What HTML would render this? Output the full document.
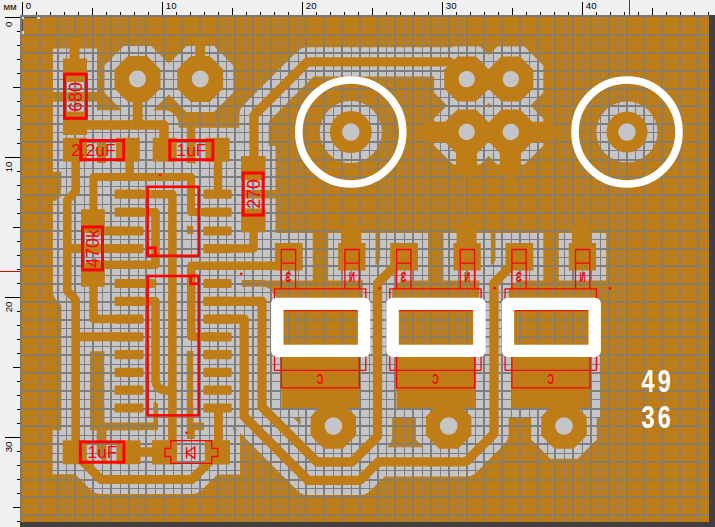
<!DOCTYPE html>
<html><head><meta charset="utf-8"><title>PCB</title>
<style>html,body{margin:0;padding:0;background:#f0f0f0;overflow:hidden}svg{display:block}</style>
</head><body>
<svg width="715" height="527" viewBox="0 0 715 527" font-family="'Liberation Sans', sans-serif">
<defs>
<mask id="gp" maskUnits="userSpaceOnUse" x="0" y="0" width="715" height="527">
<rect x="22.0" y="17.0" width="687.0" height="505.0" fill="#fff"/>
<g fill="#000" stroke="#000" stroke-linecap="round" stroke-linejoin="round">
<rect x="53" y="48.5" width="44" height="43.5" stroke="none"/>
<rect x="53" y="101.6" width="44" height="43.4" stroke="none"/>
<polygon points="123.8,46 151.2,46 170.5,65.3 170.5,92.7 151.2,112 123.8,112 104.5,92.7 104.5,65.3" stroke="none"/>
<polygon points="186.5,46 213.9,46 233.2,65.3 233.2,92.7 213.9,112 186.5,112 167.2,92.7 167.2,65.3" stroke="none"/>
<polyline points="137.7,90 137.7,125" stroke-width="30" fill="none"/>
<polyline points="75,125 164,125 164,142" stroke-width="29.5" fill="none"/>
<rect x="53" y="127.8" width="44" height="43.9" stroke="none"/>
<rect x="106" y="127.8" width="43.8" height="43.9" stroke="none"/>
<rect x="142.7" y="127.8" width="44" height="43.9" stroke="none"/>
<rect x="195.5" y="127.8" width="44" height="43.9" stroke="none"/>
<polyline points="75.7,155 75.7,191.5 67.3,200 67.3,291 75.7,299.5 75.7,445" stroke-width="28.6" fill="none"/>
<polyline points="67.3,248.6 120,248.6" stroke-width="29" fill="none"/>
<polyline points="75.7,336.8 120,336.8" stroke-width="29" fill="none"/>
<polyline points="129.7,155 129.7,177" stroke-width="28.5" fill="none"/>
<polyline points="93.5,214 93.5,177 191,177 191,212 212,212" stroke-width="28" fill="none"/>
<polyline points="218,155 218,194" stroke-width="28.5" fill="none"/>
<rect x="71" y="199.3" width="43.8" height="43.7" stroke="none"/>
<rect x="71" y="253" width="43.8" height="43.7" stroke="none"/>
<polyline points="100,231 120,231" stroke-width="29" fill="none"/>
<polyline points="93.5,282 93.5,319.1 120,319.1" stroke-width="28.5" fill="none"/>
<rect x="104.5" y="179.6" width="49" height="29.2" rx="1.5" stroke="none"/>
<rect x="193.4" y="179.6" width="48.3" height="29.2" rx="1.5" stroke="none"/>
<rect x="104.5" y="197.6" width="49" height="29.2" rx="1.5" stroke="none"/>
<rect x="193.4" y="197.6" width="48.3" height="29.2" rx="1.5" stroke="none"/>
<rect x="104.5" y="216.4" width="49" height="29.2" rx="1.5" stroke="none"/>
<rect x="193.4" y="216.4" width="48.3" height="29.2" rx="1.5" stroke="none"/>
<rect x="104.5" y="234" width="49" height="29.2" rx="1.5" stroke="none"/>
<rect x="193.4" y="234" width="48.3" height="29.2" rx="1.5" stroke="none"/>
<rect x="104.5" y="268.9" width="49" height="29.2" rx="1.5" stroke="none"/>
<rect x="193.4" y="268.9" width="48.3" height="29.2" rx="1.5" stroke="none"/>
<rect x="104.5" y="286.7" width="49" height="29.2" rx="1.5" stroke="none"/>
<rect x="193.4" y="286.7" width="48.3" height="29.2" rx="1.5" stroke="none"/>
<rect x="104.5" y="304.5" width="49" height="29.2" rx="1.5" stroke="none"/>
<rect x="193.4" y="304.5" width="48.3" height="29.2" rx="1.5" stroke="none"/>
<rect x="104.5" y="322.2" width="49" height="29.2" rx="1.5" stroke="none"/>
<rect x="193.4" y="322.2" width="48.3" height="29.2" rx="1.5" stroke="none"/>
<rect x="104.5" y="340" width="49" height="29.2" rx="1.5" stroke="none"/>
<rect x="193.4" y="340" width="48.3" height="29.2" rx="1.5" stroke="none"/>
<rect x="104.5" y="357.8" width="49" height="29.2" rx="1.5" stroke="none"/>
<rect x="193.4" y="357.8" width="48.3" height="29.2" rx="1.5" stroke="none"/>
<rect x="104.5" y="375.6" width="49" height="29.2" rx="1.5" stroke="none"/>
<rect x="193.4" y="375.6" width="48.3" height="29.2" rx="1.5" stroke="none"/>
<rect x="104.5" y="393.4" width="49" height="29.2" rx="1.5" stroke="none"/>
<rect x="193.4" y="393.4" width="48.3" height="29.2" rx="1.5" stroke="none"/>
<polyline points="130,194.2 172.4,194.2 172.4,447" stroke-width="28.6" fill="none"/>
<polyline points="130,212.2 155.5,212.2 155.5,264.7 95,264.7" stroke-width="28.6" fill="none"/>
<polyline points="130,283.5 152.5,283.5" stroke-width="29" fill="none"/>
<polyline points="130,301.3 155.5,301.3 155.5,381 157,386 161,389.5 166,390.5 172.4,390.5" stroke-width="28.6" fill="none"/>
<polyline points="215,248.6 253.5,248.6 253.5,225" stroke-width="28.5" fill="none"/>
<rect x="231" y="146" width="44.5" height="44" stroke="none"/>
<rect x="231" y="198.5" width="44.5" height="43.9" stroke="none"/>
<polyline points="254,165 254,115.3 307.5,61.8 449.5,61.8 466.7,79.1" stroke-width="29.3" fill="none"/>
<polyline points="215,336.8 191.3,336.8 191.3,265.7 289,265.7" stroke-width="28.6" fill="none"/>
<polyline points="215,301.3 262,301.3 262,407 317,462 352,462 377.5,436.5 377.5,283.5 404,257" stroke-width="29.3" fill="none"/>
<polyline points="215,319.1 244.2,319.1 244.2,416.5 308,480.3 360,480.3 378.5,461.8 466,461.8 494,433.8 494,283 519.5,257.5" stroke-width="29.3" fill="none"/>
<polyline points="218.5,408 218.5,448" stroke-width="29" fill="none"/>
<rect x="52.7" y="430.4" width="44" height="43.8" stroke="none"/>
<rect x="106.5" y="430.4" width="44" height="43.8" stroke="none"/>
<rect x="142" y="430.2" width="45" height="44.3" stroke="none"/>
<rect x="194.8" y="430.2" width="45.2" height="44.3" stroke="none"/>
<polyline points="130,452 160,452" stroke-width="29.5" fill="none"/>
<polyline points="73.5,452 101,479.5 191.8,479.5 219,452.3" stroke-width="29" fill="none"/>
<polygon points="453.2,46.6 480.2,46.6 499.2,65.6 499.2,92.6 480.2,111.6 453.2,111.6 434.2,92.6 434.2,65.6" stroke="none"/>
<polygon points="453.2,99.5 480.2,99.5 499.2,118.5 499.2,145.5 480.2,164.5 453.2,164.5 434.2,145.5 434.2,118.5" stroke="none"/>
<polygon points="497.3,46.6 524.3,46.6 543.3,65.6 543.3,92.6 524.3,111.6 497.3,111.6 478.3,92.6 478.3,65.6" stroke="none"/>
<polygon points="497.3,99.5 524.3,99.5 543.3,118.5 543.3,145.5 524.3,164.5 497.3,164.5 478.3,145.5 478.3,118.5" stroke="none"/>
<circle cx="350.8" cy="132" r="31" stroke="none"/>
<circle cx="627" cy="132" r="30.5" stroke="none"/>
<rect x="264.9" y="233" width="47.8" height="47.5" stroke="none"/>
<rect x="328.2" y="233" width="47.3" height="47.5" stroke="none"/>
<rect x="271.3" y="345" width="98.3" height="73" stroke="none"/>
<polygon points="319.8,393.2 347,393.2 366.1,412.4 366.1,439.6 347,458.8 319.8,458.8 300.6,439.6 300.6,412.4" stroke="none"/>
<rect x="380.2" y="233" width="47.8" height="47.5" stroke="none"/>
<rect x="443.5" y="233" width="47.3" height="47.5" stroke="none"/>
<rect x="386.6" y="345" width="98.3" height="73" stroke="none"/>
<polygon points="435.1,393.2 462.3,393.2 481.4,412.4 481.4,439.6 462.3,458.8 435.1,458.8 415.9,439.6 415.9,412.4" stroke="none"/>
<rect x="495.5" y="233" width="47.8" height="47.5" stroke="none"/>
<rect x="558.8" y="233" width="47.3" height="47.5" stroke="none"/>
<rect x="501.9" y="345" width="98.3" height="73" stroke="none"/>
<polygon points="550.4,393.2 577.6,393.2 596.8,412.4 596.8,439.6 577.6,458.8 550.4,458.8 531.2,439.6 531.2,412.4" stroke="none"/>
<rect x="184" y="234" width="12" height="24" stroke="none"/>
<rect x="185" y="439" width="12" height="30" stroke="none"/>
</g>
<g fill="#fff">
<rect x="40" y="92.8" width="24" height="8.4"/>
<path d="M50 173H61V196L55 201H50Z"/>
</g>
</mask>
<clipPath id="board"><rect x="22.0" y="17.0" width="687.0" height="505.0"/></clipPath>
</defs>
<rect width="715" height="527" fill="#f0f0f0"/>
<rect x="709" y="15" width="6" height="512" fill="#404040"/>
<rect x="20" y="522" width="695" height="5" fill="#404040"/>
<rect x="20" y="15" width="689" height="507" fill="#7a7a7a"/>
<rect x="22.0" y="17.0" width="687.0" height="505.0" fill="#c5c5c7"/>
<g shape-rendering="crispEdges">
<rect x="31" y="17" width="1" height="505" fill="#7e7e80"/>
<rect x="39" y="17" width="2" height="505" fill="#7e7e80"/>
<rect x="49" y="17" width="1" height="505" fill="#7e7e80"/>
<rect x="57" y="17" width="2" height="505" fill="#7e7e80"/>
<rect x="66" y="17" width="1" height="505" fill="#7e7e80"/>
<rect x="74" y="17" width="2" height="505" fill="#7e7e80"/>
<rect x="84" y="17" width="1" height="505" fill="#7e7e80"/>
<rect x="92" y="17" width="2" height="505" fill="#7e7e80"/>
<rect x="102" y="17" width="1" height="505" fill="#7e7e80"/>
<rect x="110" y="17" width="2" height="505" fill="#7e7e80"/>
<rect x="120" y="17" width="1" height="505" fill="#7e7e80"/>
<rect x="128" y="17" width="2" height="505" fill="#7e7e80"/>
<rect x="138" y="17" width="1" height="505" fill="#7e7e80"/>
<rect x="145" y="17" width="2" height="505" fill="#7e7e80"/>
<rect x="155" y="17" width="1" height="505" fill="#7e7e80"/>
<rect x="163" y="17" width="2" height="505" fill="#7e7e80"/>
<rect x="173" y="17" width="1" height="505" fill="#7e7e80"/>
<rect x="181" y="17" width="2" height="505" fill="#7e7e80"/>
<rect x="191" y="17" width="1" height="505" fill="#7e7e80"/>
<rect x="199" y="17" width="2" height="505" fill="#7e7e80"/>
<rect x="209" y="17" width="1" height="505" fill="#7e7e80"/>
<rect x="217" y="17" width="2" height="505" fill="#7e7e80"/>
<rect x="226" y="17" width="1" height="505" fill="#7e7e80"/>
<rect x="234" y="17" width="2" height="505" fill="#7e7e80"/>
<rect x="244" y="17" width="1" height="505" fill="#7e7e80"/>
<rect x="252" y="17" width="2" height="505" fill="#7e7e80"/>
<rect x="262" y="17" width="1" height="505" fill="#7e7e80"/>
<rect x="270" y="17" width="2" height="505" fill="#7e7e80"/>
<rect x="280" y="17" width="1" height="505" fill="#7e7e80"/>
<rect x="288" y="17" width="2" height="505" fill="#7e7e80"/>
<rect x="298" y="17" width="1" height="505" fill="#7e7e80"/>
<rect x="305" y="17" width="2" height="505" fill="#7e7e80"/>
<rect x="315" y="17" width="1" height="505" fill="#7e7e80"/>
<rect x="323" y="17" width="2" height="505" fill="#7e7e80"/>
<rect x="333" y="17" width="1" height="505" fill="#7e7e80"/>
<rect x="341" y="17" width="2" height="505" fill="#7e7e80"/>
<rect x="351" y="17" width="1" height="505" fill="#7e7e80"/>
<rect x="359" y="17" width="2" height="505" fill="#7e7e80"/>
<rect x="369" y="17" width="1" height="505" fill="#7e7e80"/>
<rect x="377" y="17" width="2" height="505" fill="#7e7e80"/>
<rect x="386" y="17" width="1" height="505" fill="#7e7e80"/>
<rect x="394" y="17" width="2" height="505" fill="#7e7e80"/>
<rect x="404" y="17" width="1" height="505" fill="#7e7e80"/>
<rect x="412" y="17" width="2" height="505" fill="#7e7e80"/>
<rect x="422" y="17" width="1" height="505" fill="#7e7e80"/>
<rect x="430" y="17" width="2" height="505" fill="#7e7e80"/>
<rect x="440" y="17" width="1" height="505" fill="#7e7e80"/>
<rect x="448" y="17" width="2" height="505" fill="#7e7e80"/>
<rect x="458" y="17" width="1" height="505" fill="#7e7e80"/>
<rect x="466" y="17" width="2" height="505" fill="#7e7e80"/>
<rect x="475" y="17" width="1" height="505" fill="#7e7e80"/>
<rect x="483" y="17" width="2" height="505" fill="#7e7e80"/>
<rect x="493" y="17" width="1" height="505" fill="#7e7e80"/>
<rect x="501" y="17" width="2" height="505" fill="#7e7e80"/>
<rect x="511" y="17" width="1" height="505" fill="#7e7e80"/>
<rect x="519" y="17" width="2" height="505" fill="#7e7e80"/>
<rect x="529" y="17" width="1" height="505" fill="#7e7e80"/>
<rect x="537" y="17" width="2" height="505" fill="#7e7e80"/>
<rect x="547" y="17" width="1" height="505" fill="#7e7e80"/>
<rect x="554" y="17" width="2" height="505" fill="#7e7e80"/>
<rect x="564" y="17" width="1" height="505" fill="#7e7e80"/>
<rect x="572" y="17" width="2" height="505" fill="#7e7e80"/>
<rect x="582" y="17" width="1" height="505" fill="#7e7e80"/>
<rect x="590" y="17" width="2" height="505" fill="#7e7e80"/>
<rect x="600" y="17" width="1" height="505" fill="#7e7e80"/>
<rect x="608" y="17" width="2" height="505" fill="#7e7e80"/>
<rect x="618" y="17" width="1" height="505" fill="#7e7e80"/>
<rect x="626" y="17" width="2" height="505" fill="#7e7e80"/>
<rect x="635" y="17" width="1" height="505" fill="#7e7e80"/>
<rect x="643" y="17" width="2" height="505" fill="#7e7e80"/>
<rect x="653" y="17" width="1" height="505" fill="#7e7e80"/>
<rect x="661" y="17" width="2" height="505" fill="#7e7e80"/>
<rect x="671" y="17" width="1" height="505" fill="#7e7e80"/>
<rect x="679" y="17" width="2" height="505" fill="#7e7e80"/>
<rect x="689" y="17" width="1" height="505" fill="#7e7e80"/>
<rect x="697" y="17" width="2" height="505" fill="#7e7e80"/>
<rect x="707" y="17" width="1" height="505" fill="#7e7e80"/>
<rect x="22" y="26" width="687" height="1" fill="#7e7e80"/>
<rect x="22" y="34" width="687" height="2" fill="#7e7e80"/>
<rect x="22" y="44" width="687" height="1" fill="#7e7e80"/>
<rect x="22" y="52" width="687" height="2" fill="#7e7e80"/>
<rect x="22" y="61" width="687" height="1" fill="#7e7e80"/>
<rect x="22" y="70" width="687" height="2" fill="#7e7e80"/>
<rect x="22" y="79" width="687" height="1" fill="#7e7e80"/>
<rect x="22" y="88" width="687" height="2" fill="#7e7e80"/>
<rect x="22" y="97" width="687" height="1" fill="#7e7e80"/>
<rect x="22" y="105" width="687" height="2" fill="#7e7e80"/>
<rect x="22" y="115" width="687" height="1" fill="#7e7e80"/>
<rect x="22" y="123" width="687" height="2" fill="#7e7e80"/>
<rect x="22" y="132" width="687" height="1" fill="#7e7e80"/>
<rect x="22" y="141" width="687" height="2" fill="#7e7e80"/>
<rect x="22" y="150" width="687" height="1" fill="#7e7e80"/>
<rect x="22" y="159" width="687" height="2" fill="#7e7e80"/>
<rect x="22" y="168" width="687" height="1" fill="#7e7e80"/>
<rect x="22" y="176" width="687" height="2" fill="#7e7e80"/>
<rect x="22" y="186" width="687" height="1" fill="#7e7e80"/>
<rect x="22" y="194" width="687" height="2" fill="#7e7e80"/>
<rect x="22" y="204" width="687" height="1" fill="#7e7e80"/>
<rect x="22" y="212" width="687" height="2" fill="#7e7e80"/>
<rect x="22" y="221" width="687" height="1" fill="#7e7e80"/>
<rect x="22" y="230" width="687" height="2" fill="#7e7e80"/>
<rect x="22" y="239" width="687" height="1" fill="#7e7e80"/>
<rect x="22" y="248" width="687" height="2" fill="#7e7e80"/>
<rect x="22" y="257" width="687" height="1" fill="#7e7e80"/>
<rect x="22" y="265" width="687" height="2" fill="#7e7e80"/>
<rect x="22" y="275" width="687" height="1" fill="#7e7e80"/>
<rect x="22" y="283" width="687" height="2" fill="#7e7e80"/>
<rect x="22" y="292" width="687" height="1" fill="#7e7e80"/>
<rect x="22" y="301" width="687" height="2" fill="#7e7e80"/>
<rect x="22" y="310" width="687" height="1" fill="#7e7e80"/>
<rect x="22" y="319" width="687" height="2" fill="#7e7e80"/>
<rect x="22" y="328" width="687" height="1" fill="#7e7e80"/>
<rect x="22" y="336" width="687" height="2" fill="#7e7e80"/>
<rect x="22" y="346" width="687" height="1" fill="#7e7e80"/>
<rect x="22" y="354" width="687" height="2" fill="#7e7e80"/>
<rect x="22" y="364" width="687" height="1" fill="#7e7e80"/>
<rect x="22" y="372" width="687" height="2" fill="#7e7e80"/>
<rect x="22" y="381" width="687" height="1" fill="#7e7e80"/>
<rect x="22" y="390" width="687" height="2" fill="#7e7e80"/>
<rect x="22" y="399" width="687" height="1" fill="#7e7e80"/>
<rect x="22" y="408" width="687" height="2" fill="#7e7e80"/>
<rect x="22" y="417" width="687" height="1" fill="#7e7e80"/>
<rect x="22" y="425" width="687" height="2" fill="#7e7e80"/>
<rect x="22" y="435" width="687" height="1" fill="#7e7e80"/>
<rect x="22" y="443" width="687" height="2" fill="#7e7e80"/>
<rect x="22" y="453" width="687" height="1" fill="#7e7e80"/>
<rect x="22" y="461" width="687" height="2" fill="#7e7e80"/>
<rect x="22" y="470" width="687" height="1" fill="#7e7e80"/>
<rect x="22" y="479" width="687" height="2" fill="#7e7e80"/>
<rect x="22" y="488" width="687" height="1" fill="#7e7e80"/>
<rect x="22" y="496" width="687" height="2" fill="#7e7e80"/>
<rect x="22" y="506" width="687" height="1" fill="#7e7e80"/>
<rect x="22" y="514" width="687" height="2" fill="#7e7e80"/>
</g>
<g mask="url(#gp)">
<rect x="22.0" y="17.0" width="687.0" height="505.0" fill="#bf7d17"/>
<g shape-rendering="crispEdges">
<rect x="31" y="17" width="1" height="505" fill="#967f56"/>
<rect x="39" y="17" width="2" height="505" fill="#8b7e62"/>
<rect x="49" y="17" width="1" height="505" fill="#967f56"/>
<rect x="57" y="17" width="2" height="505" fill="#8b7e62"/>
<rect x="66" y="17" width="1" height="505" fill="#967f56"/>
<rect x="74" y="17" width="2" height="505" fill="#8b7e62"/>
<rect x="84" y="17" width="1" height="505" fill="#967f56"/>
<rect x="92" y="17" width="2" height="505" fill="#8b7e62"/>
<rect x="102" y="17" width="1" height="505" fill="#967f56"/>
<rect x="110" y="17" width="2" height="505" fill="#8b7e62"/>
<rect x="120" y="17" width="1" height="505" fill="#967f56"/>
<rect x="128" y="17" width="2" height="505" fill="#8b7e62"/>
<rect x="138" y="17" width="1" height="505" fill="#967f56"/>
<rect x="145" y="17" width="2" height="505" fill="#8b7e62"/>
<rect x="155" y="17" width="1" height="505" fill="#967f56"/>
<rect x="163" y="17" width="2" height="505" fill="#8b7e62"/>
<rect x="173" y="17" width="1" height="505" fill="#967f56"/>
<rect x="181" y="17" width="2" height="505" fill="#8b7e62"/>
<rect x="191" y="17" width="1" height="505" fill="#967f56"/>
<rect x="199" y="17" width="2" height="505" fill="#8b7e62"/>
<rect x="209" y="17" width="1" height="505" fill="#967f56"/>
<rect x="217" y="17" width="2" height="505" fill="#8b7e62"/>
<rect x="226" y="17" width="1" height="505" fill="#967f56"/>
<rect x="234" y="17" width="2" height="505" fill="#8b7e62"/>
<rect x="244" y="17" width="1" height="505" fill="#967f56"/>
<rect x="252" y="17" width="2" height="505" fill="#8b7e62"/>
<rect x="262" y="17" width="1" height="505" fill="#967f56"/>
<rect x="270" y="17" width="2" height="505" fill="#8b7e62"/>
<rect x="280" y="17" width="1" height="505" fill="#967f56"/>
<rect x="288" y="17" width="2" height="505" fill="#8b7e62"/>
<rect x="298" y="17" width="1" height="505" fill="#967f56"/>
<rect x="305" y="17" width="2" height="505" fill="#8b7e62"/>
<rect x="315" y="17" width="1" height="505" fill="#967f56"/>
<rect x="323" y="17" width="2" height="505" fill="#8b7e62"/>
<rect x="333" y="17" width="1" height="505" fill="#967f56"/>
<rect x="341" y="17" width="2" height="505" fill="#8b7e62"/>
<rect x="351" y="17" width="1" height="505" fill="#967f56"/>
<rect x="359" y="17" width="2" height="505" fill="#8b7e62"/>
<rect x="369" y="17" width="1" height="505" fill="#967f56"/>
<rect x="377" y="17" width="2" height="505" fill="#8b7e62"/>
<rect x="386" y="17" width="1" height="505" fill="#967f56"/>
<rect x="394" y="17" width="2" height="505" fill="#8b7e62"/>
<rect x="404" y="17" width="1" height="505" fill="#967f56"/>
<rect x="412" y="17" width="2" height="505" fill="#8b7e62"/>
<rect x="422" y="17" width="1" height="505" fill="#967f56"/>
<rect x="430" y="17" width="2" height="505" fill="#8b7e62"/>
<rect x="440" y="17" width="1" height="505" fill="#967f56"/>
<rect x="448" y="17" width="2" height="505" fill="#8b7e62"/>
<rect x="458" y="17" width="1" height="505" fill="#967f56"/>
<rect x="466" y="17" width="2" height="505" fill="#8b7e62"/>
<rect x="475" y="17" width="1" height="505" fill="#967f56"/>
<rect x="483" y="17" width="2" height="505" fill="#8b7e62"/>
<rect x="493" y="17" width="1" height="505" fill="#967f56"/>
<rect x="501" y="17" width="2" height="505" fill="#8b7e62"/>
<rect x="511" y="17" width="1" height="505" fill="#967f56"/>
<rect x="519" y="17" width="2" height="505" fill="#8b7e62"/>
<rect x="529" y="17" width="1" height="505" fill="#967f56"/>
<rect x="537" y="17" width="2" height="505" fill="#8b7e62"/>
<rect x="547" y="17" width="1" height="505" fill="#967f56"/>
<rect x="554" y="17" width="2" height="505" fill="#8b7e62"/>
<rect x="564" y="17" width="1" height="505" fill="#967f56"/>
<rect x="572" y="17" width="2" height="505" fill="#8b7e62"/>
<rect x="582" y="17" width="1" height="505" fill="#967f56"/>
<rect x="590" y="17" width="2" height="505" fill="#8b7e62"/>
<rect x="600" y="17" width="1" height="505" fill="#967f56"/>
<rect x="608" y="17" width="2" height="505" fill="#8b7e62"/>
<rect x="618" y="17" width="1" height="505" fill="#967f56"/>
<rect x="626" y="17" width="2" height="505" fill="#8b7e62"/>
<rect x="635" y="17" width="1" height="505" fill="#967f56"/>
<rect x="643" y="17" width="2" height="505" fill="#8b7e62"/>
<rect x="653" y="17" width="1" height="505" fill="#967f56"/>
<rect x="661" y="17" width="2" height="505" fill="#8b7e62"/>
<rect x="671" y="17" width="1" height="505" fill="#967f56"/>
<rect x="679" y="17" width="2" height="505" fill="#8b7e62"/>
<rect x="689" y="17" width="1" height="505" fill="#967f56"/>
<rect x="697" y="17" width="2" height="505" fill="#8b7e62"/>
<rect x="707" y="17" width="1" height="505" fill="#967f56"/>
<rect x="22" y="26" width="687" height="1" fill="#967f56"/>
<rect x="22" y="34" width="687" height="2" fill="#8b7e62"/>
<rect x="22" y="44" width="687" height="1" fill="#967f56"/>
<rect x="22" y="52" width="687" height="2" fill="#8b7e62"/>
<rect x="22" y="61" width="687" height="1" fill="#967f56"/>
<rect x="22" y="70" width="687" height="2" fill="#8b7e62"/>
<rect x="22" y="79" width="687" height="1" fill="#967f56"/>
<rect x="22" y="88" width="687" height="2" fill="#8b7e62"/>
<rect x="22" y="97" width="687" height="1" fill="#967f56"/>
<rect x="22" y="105" width="687" height="2" fill="#8b7e62"/>
<rect x="22" y="115" width="687" height="1" fill="#967f56"/>
<rect x="22" y="123" width="687" height="2" fill="#8b7e62"/>
<rect x="22" y="132" width="687" height="1" fill="#967f56"/>
<rect x="22" y="141" width="687" height="2" fill="#8b7e62"/>
<rect x="22" y="150" width="687" height="1" fill="#967f56"/>
<rect x="22" y="159" width="687" height="2" fill="#8b7e62"/>
<rect x="22" y="168" width="687" height="1" fill="#967f56"/>
<rect x="22" y="176" width="687" height="2" fill="#8b7e62"/>
<rect x="22" y="186" width="687" height="1" fill="#967f56"/>
<rect x="22" y="194" width="687" height="2" fill="#8b7e62"/>
<rect x="22" y="204" width="687" height="1" fill="#967f56"/>
<rect x="22" y="212" width="687" height="2" fill="#8b7e62"/>
<rect x="22" y="221" width="687" height="1" fill="#967f56"/>
<rect x="22" y="230" width="687" height="2" fill="#8b7e62"/>
<rect x="22" y="239" width="687" height="1" fill="#967f56"/>
<rect x="22" y="248" width="687" height="2" fill="#8b7e62"/>
<rect x="22" y="257" width="687" height="1" fill="#967f56"/>
<rect x="22" y="265" width="687" height="2" fill="#8b7e62"/>
<rect x="22" y="275" width="687" height="1" fill="#967f56"/>
<rect x="22" y="283" width="687" height="2" fill="#8b7e62"/>
<rect x="22" y="292" width="687" height="1" fill="#967f56"/>
<rect x="22" y="301" width="687" height="2" fill="#8b7e62"/>
<rect x="22" y="310" width="687" height="1" fill="#967f56"/>
<rect x="22" y="319" width="687" height="2" fill="#8b7e62"/>
<rect x="22" y="328" width="687" height="1" fill="#967f56"/>
<rect x="22" y="336" width="687" height="2" fill="#8b7e62"/>
<rect x="22" y="346" width="687" height="1" fill="#967f56"/>
<rect x="22" y="354" width="687" height="2" fill="#8b7e62"/>
<rect x="22" y="364" width="687" height="1" fill="#967f56"/>
<rect x="22" y="372" width="687" height="2" fill="#8b7e62"/>
<rect x="22" y="381" width="687" height="1" fill="#967f56"/>
<rect x="22" y="390" width="687" height="2" fill="#8b7e62"/>
<rect x="22" y="399" width="687" height="1" fill="#967f56"/>
<rect x="22" y="408" width="687" height="2" fill="#8b7e62"/>
<rect x="22" y="417" width="687" height="1" fill="#967f56"/>
<rect x="22" y="425" width="687" height="2" fill="#8b7e62"/>
<rect x="22" y="435" width="687" height="1" fill="#967f56"/>
<rect x="22" y="443" width="687" height="2" fill="#8b7e62"/>
<rect x="22" y="453" width="687" height="1" fill="#967f56"/>
<rect x="22" y="461" width="687" height="2" fill="#8b7e62"/>
<rect x="22" y="470" width="687" height="1" fill="#967f56"/>
<rect x="22" y="479" width="687" height="2" fill="#8b7e62"/>
<rect x="22" y="488" width="687" height="1" fill="#967f56"/>
<rect x="22" y="496" width="687" height="2" fill="#8b7e62"/>
<rect x="22" y="506" width="687" height="1" fill="#967f56"/>
<rect x="22" y="514" width="687" height="2" fill="#8b7e62"/>
</g>
</g>
<g clip-path="url(#board)">
<g fill="#bf7d17" stroke="#bf7d17" stroke-linecap="round" stroke-linejoin="round">
<rect x="63" y="58.5" width="24" height="23.5" stroke="none"/>
<rect x="63" y="111.6" width="24" height="23.4" stroke="none"/>
<polyline points="74.5,62 74.5,42.8" stroke-width="10" fill="none"/>
<polygon points="128,56 147,56 160.5,69.5 160.5,88.5 147,102 128,102 114.5,88.5 114.5,69.5" stroke="none"/>
<polygon points="190.7,56 209.7,56 223.2,69.5 223.2,88.5 209.7,102 190.7,102 177.2,88.5 177.2,69.5" stroke="none"/>
<polyline points="200.2,70 200.2,42.8" stroke-width="10" fill="none"/>
<polyline points="137.7,90 137.7,125" stroke-width="10" fill="none"/>
<polyline points="75,125 164,125 164,142" stroke-width="9.5" fill="none"/>
<rect x="63" y="137.8" width="24" height="23.9" stroke="none"/>
<rect x="116" y="137.8" width="23.8" height="23.9" stroke="none"/>
<rect x="152.7" y="137.8" width="24" height="23.9" stroke="none"/>
<rect x="205.5" y="137.8" width="24" height="23.9" stroke="none"/>
<polyline points="75.7,155 75.7,191.5 67.3,200 67.3,291 75.7,299.5 75.7,445" stroke-width="8.6" fill="none"/>
<polyline points="67.3,248.6 120,248.6" stroke-width="9" fill="none"/>
<polyline points="75.7,336.8 120,336.8" stroke-width="9" fill="none"/>
<polyline points="129.7,155 129.7,177" stroke-width="8.5" fill="none"/>
<polyline points="93.5,214 93.5,177 191,177 191,212 212,212" stroke-width="8" fill="none"/>
<polyline points="218,155 218,194" stroke-width="8.5" fill="none"/>
<rect x="81" y="209.3" width="23.8" height="23.7" stroke="none"/>
<rect x="81" y="263" width="23.8" height="23.7" stroke="none"/>
<polyline points="100,231 120,231" stroke-width="9" fill="none"/>
<polyline points="93.5,282 93.5,319.1 120,319.1" stroke-width="8.5" fill="none"/>
<rect x="114.5" y="189.6" width="29" height="9.2" rx="1.3" stroke="none"/>
<rect x="203.4" y="189.6" width="28.3" height="9.2" rx="1.3" stroke="none"/>
<rect x="114.5" y="207.6" width="29" height="9.2" rx="1.3" stroke="none"/>
<rect x="203.4" y="207.6" width="28.3" height="9.2" rx="1.3" stroke="none"/>
<rect x="114.5" y="226.4" width="29" height="9.2" rx="1.3" stroke="none"/>
<rect x="203.4" y="226.4" width="28.3" height="9.2" rx="1.3" stroke="none"/>
<rect x="114.5" y="244" width="29" height="9.2" rx="1.3" stroke="none"/>
<rect x="203.4" y="244" width="28.3" height="9.2" rx="1.3" stroke="none"/>
<rect x="114.5" y="278.9" width="29" height="9.2" rx="1.3" stroke="none"/>
<rect x="203.4" y="278.9" width="28.3" height="9.2" rx="1.3" stroke="none"/>
<rect x="114.5" y="296.7" width="29" height="9.2" rx="1.3" stroke="none"/>
<rect x="203.4" y="296.7" width="28.3" height="9.2" rx="1.3" stroke="none"/>
<rect x="114.5" y="314.5" width="29" height="9.2" rx="1.3" stroke="none"/>
<rect x="203.4" y="314.5" width="28.3" height="9.2" rx="1.3" stroke="none"/>
<rect x="114.5" y="332.2" width="29" height="9.2" rx="1.3" stroke="none"/>
<rect x="203.4" y="332.2" width="28.3" height="9.2" rx="1.3" stroke="none"/>
<rect x="114.5" y="350" width="29" height="9.2" rx="1.3" stroke="none"/>
<rect x="203.4" y="350" width="28.3" height="9.2" rx="1.3" stroke="none"/>
<rect x="114.5" y="367.8" width="29" height="9.2" rx="1.3" stroke="none"/>
<rect x="203.4" y="367.8" width="28.3" height="9.2" rx="1.3" stroke="none"/>
<rect x="114.5" y="385.6" width="29" height="9.2" rx="1.3" stroke="none"/>
<rect x="203.4" y="385.6" width="28.3" height="9.2" rx="1.3" stroke="none"/>
<rect x="114.5" y="403.4" width="29" height="9.2" rx="1.3" stroke="none"/>
<rect x="203.4" y="403.4" width="28.3" height="9.2" rx="1.3" stroke="none"/>
<polyline points="130,194.2 172.4,194.2 172.4,447" stroke-width="8.6" fill="none"/>
<polyline points="130,212.2 155.5,212.2 155.5,264.7 95,264.7" stroke-width="8.6" fill="none"/>
<polyline points="130,283.5 152.5,283.5" stroke-width="9" fill="none"/>
<polyline points="130,301.3 155.5,301.3 155.5,381 157,386 161,389.5 166,390.5 172.4,390.5" stroke-width="8.6" fill="none"/>
<polyline points="215,248.6 253.5,248.6 253.5,225" stroke-width="8.5" fill="none"/>
<rect x="241" y="156" width="24.5" height="24" stroke="none"/>
<rect x="241" y="208.5" width="24.5" height="23.9" stroke="none"/>
<polyline points="254,165 254,115.3 307.5,61.8 449.5,61.8 466.7,79.1" stroke-width="9.3" fill="none"/>
<polyline points="215,336.8 191.3,336.8 191.3,265.7 289,265.7" stroke-width="8.6" fill="none"/>
<polyline points="215,301.3 262,301.3 262,407 317,462 352,462 377.5,436.5 377.5,283.5 404,257" stroke-width="9.3" fill="none"/>
<polyline points="215,319.1 244.2,319.1 244.2,416.5 308,480.3 360,480.3 378.5,461.8 466,461.8 494,433.8 494,283 519.5,257.5" stroke-width="9.3" fill="none"/>
<polyline points="218.5,408 218.5,448" stroke-width="9" fill="none"/>
<rect x="62.7" y="440.4" width="24" height="23.8" stroke="none"/>
<rect x="116.5" y="440.4" width="24" height="23.8" stroke="none"/>
<rect x="152" y="440.2" width="25" height="24.3" stroke="none"/>
<rect x="204.8" y="440.2" width="25.2" height="24.3" stroke="none"/>
<polyline points="130,452 160,452" stroke-width="9.5" fill="none"/>
<polyline points="73.5,452 101,479.5 191.8,479.5 219,452.3" stroke-width="9" fill="none"/>
<polygon points="457.4,56.6 476,56.6 489.2,69.8 489.2,88.4 476,101.6 457.4,101.6 444.2,88.4 444.2,69.8" stroke="none"/>
<polygon points="457.4,109.5 476,109.5 489.2,122.7 489.2,141.3 476,154.5 457.4,154.5 444.2,141.3 444.2,122.7" stroke="none"/>
<polygon points="501.5,56.6 520.1,56.6 533.3,69.8 533.3,88.4 520.1,101.6 501.5,101.6 488.3,88.4 488.3,69.8" stroke="none"/>
<polygon points="501.5,109.5 520.1,109.5 533.3,122.7 533.3,141.3 520.1,154.5 501.5,154.5 488.3,141.3 488.3,122.7" stroke="none"/>
<polyline points="466.7,132 430,132" stroke-width="20.5" fill="none"/>
<polyline points="510.8,132 546.5,132" stroke-width="20.5" fill="none"/>
<polyline points="466.5,132 466.5,167" stroke-width="21" fill="none"/>
<polyline points="510.3,132 510.3,167" stroke-width="21" fill="none"/>
<circle cx="350.8" cy="132" r="21" stroke="none"/>
<circle cx="627" cy="132" r="20.5" stroke="none"/>
<rect x="274.9" y="243" width="27.8" height="27.5" stroke="none"/>
<rect x="338.2" y="243" width="27.3" height="27.5" stroke="none"/>
<polyline points="351.3,257 351.3,230" stroke-width="20" fill="none"/>
<rect x="281.3" y="355" width="78.3" height="53" stroke="none"/>
<polygon points="324,403.2 342.8,403.2 356.1,416.6 356.1,435.4 342.8,448.8 324,448.8 310.6,435.4 310.6,416.6" stroke="none"/>
<rect x="390.2" y="243" width="27.8" height="27.5" stroke="none"/>
<rect x="453.5" y="243" width="27.3" height="27.5" stroke="none"/>
<polyline points="466.6,257 466.6,230" stroke-width="20" fill="none"/>
<rect x="396.6" y="355" width="78.3" height="53" stroke="none"/>
<polygon points="439.3,403.2 458.1,403.2 471.4,416.6 471.4,435.4 458.1,448.8 439.3,448.8 425.9,435.4 425.9,416.6" stroke="none"/>
<rect x="505.5" y="243" width="27.8" height="27.5" stroke="none"/>
<rect x="568.8" y="243" width="27.3" height="27.5" stroke="none"/>
<polyline points="581.9,257 581.9,230" stroke-width="20" fill="none"/>
<rect x="511.9" y="355" width="78.3" height="53" stroke="none"/>
<polygon points="554.6,403.2 573.4,403.2 586.8,416.6 586.8,435.4 573.4,448.8 554.6,448.8 541.2,435.4 541.2,416.6" stroke="none"/>
</g>
<g fill="#c5c5c7">
<circle cx="137.5" cy="79" r="8.5"/>
<circle cx="200.2" cy="79" r="8.5"/>
<circle cx="466.7" cy="79.1" r="8.2"/>
<circle cx="466.7" cy="132" r="8.2"/>
<circle cx="510.8" cy="79.1" r="8.2"/>
<circle cx="510.8" cy="132" r="8.2"/>
<circle cx="350.8" cy="132" r="8.7"/>
<circle cx="627" cy="132" r="8.7"/>
<circle cx="333.4" cy="426" r="8.8"/>
<circle cx="448.7" cy="426" r="8.8"/>
<circle cx="564" cy="426" r="8.8"/>
</g>
<g>
<rect x="64.5" y="74.1" width="21.9" height="44.2" fill="none" stroke="#ff0000" stroke-width="3"/>
<text x="82" y="97" font-size="17.8" text-anchor="middle" fill="#ff0000" transform="rotate(-90 82 97)">680</text>
<rect x="80.8" y="140.5" width="42.9" height="19.2" fill="none" stroke="#ff0000" stroke-width="3"/>
<text x="93.4" y="155.8" font-size="17.3" text-anchor="middle" fill="#ff0000">2.2uF</text>
<rect x="169.8" y="140.5" width="43.1" height="19.2" fill="none" stroke="#ff0000" stroke-width="3"/>
<text x="191.5" y="155.8" font-size="17.3" text-anchor="middle" fill="#ff0000">1uF</text>
<rect x="82.5" y="227" width="20" height="42.9" fill="none" stroke="#ff0000" stroke-width="3"/>
<text x="99" y="248.5" font-size="17.8" text-anchor="middle" fill="#ff0000" transform="rotate(-90 99 248.5)">470k</text>
<rect x="243.1" y="173" width="20.1" height="42.1" fill="none" stroke="#ff0000" stroke-width="3"/>
<text x="259.5" y="194" font-size="17.8" text-anchor="middle" fill="#ff0000" transform="rotate(-90 259.5 194)">270</text>
<rect x="80.3" y="441.9" width="43.6" height="20.3" fill="none" stroke="#ff0000" stroke-width="3"/>
<text x="102.5" y="457.8" font-size="17.3" text-anchor="middle" fill="#ff0000">1uF</text>
<rect x="147.6" y="186.8" width="51.1" height="69" fill="none" stroke="#ff0000" stroke-width="2.6"/>
<rect x="147.6" y="247.7" width="7.8" height="8.1" fill="none" stroke="#ff0000" stroke-width="2.6"/>
<circle cx="160" cy="175" r="1.3" fill="#ff0000"/>
<rect x="147.6" y="276" width="51.1" height="139.4" fill="none" stroke="#ff0000" stroke-width="2.6"/>
<rect x="190.6" y="276" width="8.1" height="7.8" fill="none" stroke="#ff0000" stroke-width="2.6"/>
<circle cx="241.2" cy="273.7" r="1.3" fill="#ff0000"/>
<circle cx="186.5" cy="432.8" r="1.3" fill="#ff0000"/>
<path d="M170.8 440.7H211.7V448.3H217.8V456.5H211.7V463.4H170.8V456.5H164.9V448.3H170.8Z" fill="none" stroke="#ff0000" stroke-width="1.3"/>
<path d="M186.5 447V458.4M186.5 452.7L194.7 447V458.4Z" fill="none" stroke="#ff0000" stroke-width="1.3"/>
<path d="M274.5 370.4V288.8H365.8V370.4M274.5 370.4H281.3M359.3 370.4H365.8" fill="none" stroke="#ff0000" stroke-width="1.3"/>
<path d="M281.3 357V387.9H359.3V357" fill="none" stroke="#ff0000" stroke-width="1.3"/>
<path d="M281.3 370.4H359.3" fill="none" stroke="#ff0000" stroke-width="1.3"/>
<path d="M283 310.7H358.2" fill="none" stroke="#e02000" stroke-width="1.2"/>
<path d="M281.3 288.8V249.5H295.6V288.8M281.3 263.2H295.6" fill="none" stroke="#ff0000" stroke-width="1.3"/>
<path d="M344.9 288.8V249.5H359.2V288.8M344.9 263.2H359.2" fill="none" stroke="#ff0000" stroke-width="1.3"/>
<text x="0" y="0" font-size="14" font-weight="bold" text-anchor="middle" fill="#ff0000" transform="translate(288.4 281.8) scale(-0.8 1)">3</text>
<text x="0" y="0" font-size="14" font-weight="bold" text-anchor="middle" fill="#ff0000" transform="translate(352 281.8) scale(-0.6 1)">N</text>
<text x="0" y="0" font-size="15" font-weight="bold" text-anchor="middle" fill="#ff0000" transform="translate(320.1 384) scale(-0.6 1)">C</text>
<path d="M389.8 370.4V288.8H481.1V370.4M389.8 370.4H396.6M474.6 370.4H481.1" fill="none" stroke="#ff0000" stroke-width="1.3"/>
<path d="M396.6 357V387.9H474.6V357" fill="none" stroke="#ff0000" stroke-width="1.3"/>
<path d="M396.6 370.4H474.6" fill="none" stroke="#ff0000" stroke-width="1.3"/>
<path d="M398.3 310.7H473.5" fill="none" stroke="#e02000" stroke-width="1.2"/>
<path d="M396.6 288.8V249.5H410.9V288.8M396.6 263.2H410.9" fill="none" stroke="#ff0000" stroke-width="1.3"/>
<path d="M460.2 288.8V249.5H474.5V288.8M460.2 263.2H474.5" fill="none" stroke="#ff0000" stroke-width="1.3"/>
<text x="0" y="0" font-size="14" font-weight="bold" text-anchor="middle" fill="#ff0000" transform="translate(403.7 281.8) scale(-0.8 1)">3</text>
<text x="0" y="0" font-size="14" font-weight="bold" text-anchor="middle" fill="#ff0000" transform="translate(467.3 281.8) scale(-0.6 1)">N</text>
<text x="0" y="0" font-size="15" font-weight="bold" text-anchor="middle" fill="#ff0000" transform="translate(435.4 384) scale(-0.6 1)">C</text>
<path d="M505.1 370.4V288.8H596.4V370.4M505.1 370.4H511.9M589.9 370.4H596.4" fill="none" stroke="#ff0000" stroke-width="1.3"/>
<path d="M511.9 357V387.9H589.9V357" fill="none" stroke="#ff0000" stroke-width="1.3"/>
<path d="M511.9 370.4H589.9" fill="none" stroke="#ff0000" stroke-width="1.3"/>
<path d="M513.6 310.7H588.8" fill="none" stroke="#e02000" stroke-width="1.2"/>
<path d="M511.9 288.8V249.5H526.2V288.8M511.9 263.2H526.2" fill="none" stroke="#ff0000" stroke-width="1.3"/>
<path d="M575.5 288.8V249.5H589.8V288.8M575.5 263.2H589.8" fill="none" stroke="#ff0000" stroke-width="1.3"/>
<text x="0" y="0" font-size="14" font-weight="bold" text-anchor="middle" fill="#ff0000" transform="translate(519 281.8) scale(-0.8 1)">3</text>
<text x="0" y="0" font-size="14" font-weight="bold" text-anchor="middle" fill="#ff0000" transform="translate(582.6 281.8) scale(-0.6 1)">N</text>
<text x="0" y="0" font-size="15" font-weight="bold" text-anchor="middle" fill="#ff0000" transform="translate(550.7 384) scale(-0.6 1)">C</text>
<circle cx="379.6" cy="288.2" r="1.3" fill="#ff0000"/>
<circle cx="494.8" cy="288.2" r="1.3" fill="#ff0000"/>
<circle cx="610" cy="288.2" r="1.3" fill="#ff0000"/>
</g>
<g>
<circle cx="350.8" cy="132" r="52" fill="none" stroke="#fff" stroke-width="7.6"/>
<circle cx="627" cy="132" r="52" fill="none" stroke="#fff" stroke-width="7.6"/>
<rect x="277.3" y="303.9" width="86.8" height="47" fill="none" stroke="#fff" stroke-width="12.4" stroke-linejoin="round"/>
<rect x="392.6" y="303.9" width="86.8" height="47" fill="none" stroke="#fff" stroke-width="12.4" stroke-linejoin="round"/>
<rect x="507.9" y="303.9" width="86.8" height="47" fill="none" stroke="#fff" stroke-width="12.4" stroke-linejoin="round"/>
<text x="0" y="0" font-size="31" font-weight="bold" fill="#fff" letter-spacing="4" transform="translate(641.6 391.8) scale(0.76 1)">49</text>
<text x="0" y="0" font-size="31" font-weight="bold" fill="#fff" letter-spacing="4" transform="translate(641.6 427.6) scale(0.76 1)">36</text>
</g>
<path d="M22 33V17H39" fill="none" stroke="#505050" stroke-width="2"/>
<rect x="21" y="16" width="3" height="3" fill="#ddd"/><rect x="37" y="16" width="3" height="3" fill="#ddd"/><rect x="21" y="31" width="3" height="3" fill="#ddd"/>
</g>
<g>
<rect x="22" y="2" width="1" height="13" fill="#000"/>
<text x="25.8" y="9.2" font-size="9.6" fill="#000">0</text>
<rect x="36" y="12" width="1" height="3" fill="#000"/>
<rect x="50" y="12" width="1" height="3" fill="#000"/>
<rect x="64" y="12" width="1" height="3" fill="#000"/>
<rect x="78" y="12" width="1" height="3" fill="#000"/>
<rect x="92" y="8" width="1" height="7" fill="#000"/>
<rect x="106" y="12" width="1" height="3" fill="#000"/>
<rect x="120" y="12" width="1" height="3" fill="#000"/>
<rect x="134" y="12" width="1" height="3" fill="#000"/>
<rect x="148" y="12" width="1" height="3" fill="#000"/>
<rect x="162" y="2" width="1" height="13" fill="#000"/>
<text x="165.8" y="9.2" font-size="9.6" fill="#000">10</text>
<rect x="176" y="12" width="1" height="3" fill="#000"/>
<rect x="190" y="12" width="1" height="3" fill="#000"/>
<rect x="204" y="12" width="1" height="3" fill="#000"/>
<rect x="218" y="12" width="1" height="3" fill="#000"/>
<rect x="232" y="8" width="1" height="7" fill="#000"/>
<rect x="246" y="12" width="1" height="3" fill="#000"/>
<rect x="260" y="12" width="1" height="3" fill="#000"/>
<rect x="274" y="12" width="1" height="3" fill="#000"/>
<rect x="288" y="12" width="1" height="3" fill="#000"/>
<rect x="302" y="2" width="1" height="13" fill="#000"/>
<text x="305.8" y="9.2" font-size="9.6" fill="#000">20</text>
<rect x="316" y="12" width="1" height="3" fill="#000"/>
<rect x="330" y="12" width="1" height="3" fill="#000"/>
<rect x="344" y="12" width="1" height="3" fill="#000"/>
<rect x="358" y="12" width="1" height="3" fill="#000"/>
<rect x="372" y="8" width="1" height="7" fill="#000"/>
<rect x="386" y="12" width="1" height="3" fill="#000"/>
<rect x="400" y="12" width="1" height="3" fill="#000"/>
<rect x="414" y="12" width="1" height="3" fill="#000"/>
<rect x="428" y="12" width="1" height="3" fill="#000"/>
<rect x="442" y="2" width="1" height="13" fill="#000"/>
<text x="445.8" y="9.2" font-size="9.6" fill="#000">30</text>
<rect x="456" y="12" width="1" height="3" fill="#000"/>
<rect x="470" y="12" width="1" height="3" fill="#000"/>
<rect x="484" y="12" width="1" height="3" fill="#000"/>
<rect x="498" y="12" width="1" height="3" fill="#000"/>
<rect x="512" y="8" width="1" height="7" fill="#000"/>
<rect x="526" y="12" width="1" height="3" fill="#000"/>
<rect x="540" y="12" width="1" height="3" fill="#000"/>
<rect x="554" y="12" width="1" height="3" fill="#000"/>
<rect x="568" y="12" width="1" height="3" fill="#000"/>
<rect x="582" y="2" width="1" height="13" fill="#000"/>
<text x="585.8" y="9.2" font-size="9.6" fill="#000">40</text>
<rect x="596" y="12" width="1" height="3" fill="#000"/>
<rect x="610" y="12" width="1" height="3" fill="#000"/>
<rect x="624" y="12" width="1" height="3" fill="#000"/>
<rect x="638" y="12" width="1" height="3" fill="#000"/>
<rect x="652" y="8" width="1" height="7" fill="#000"/>
<rect x="666" y="12" width="1" height="3" fill="#000"/>
<rect x="680" y="12" width="1" height="3" fill="#000"/>
<rect x="694" y="12" width="1" height="3" fill="#000"/>
<rect x="708" y="12" width="1" height="3" fill="#000"/>
<rect x="5" y="17" width="15" height="1" fill="#000"/>
<text x="0" y="0" font-size="9.6" fill="#000" text-anchor="end" transform="translate(11.8 21.6) rotate(-90)">0</text>
<rect x="17" y="31" width="3" height="1" fill="#000"/>
<rect x="17" y="45" width="3" height="1" fill="#000"/>
<rect x="17" y="59" width="3" height="1" fill="#000"/>
<rect x="17" y="73" width="3" height="1" fill="#000"/>
<rect x="13" y="87" width="7" height="1" fill="#000"/>
<rect x="17" y="101" width="3" height="1" fill="#000"/>
<rect x="17" y="115" width="3" height="1" fill="#000"/>
<rect x="17" y="129" width="3" height="1" fill="#000"/>
<rect x="17" y="143" width="3" height="1" fill="#000"/>
<rect x="5" y="157" width="15" height="1" fill="#000"/>
<text x="0" y="0" font-size="9.6" fill="#000" text-anchor="end" transform="translate(11.8 161.6) rotate(-90)">10</text>
<rect x="17" y="171" width="3" height="1" fill="#000"/>
<rect x="17" y="185" width="3" height="1" fill="#000"/>
<rect x="17" y="199" width="3" height="1" fill="#000"/>
<rect x="17" y="213" width="3" height="1" fill="#000"/>
<rect x="13" y="227" width="7" height="1" fill="#000"/>
<rect x="17" y="241" width="3" height="1" fill="#000"/>
<rect x="17" y="255" width="3" height="1" fill="#000"/>
<rect x="17" y="269" width="3" height="1" fill="#000"/>
<rect x="17" y="283" width="3" height="1" fill="#000"/>
<rect x="5" y="297" width="15" height="1" fill="#000"/>
<text x="0" y="0" font-size="9.6" fill="#000" text-anchor="end" transform="translate(11.8 301.6) rotate(-90)">20</text>
<rect x="17" y="311" width="3" height="1" fill="#000"/>
<rect x="17" y="325" width="3" height="1" fill="#000"/>
<rect x="17" y="339" width="3" height="1" fill="#000"/>
<rect x="17" y="353" width="3" height="1" fill="#000"/>
<rect x="13" y="367" width="7" height="1" fill="#000"/>
<rect x="17" y="381" width="3" height="1" fill="#000"/>
<rect x="17" y="395" width="3" height="1" fill="#000"/>
<rect x="17" y="409" width="3" height="1" fill="#000"/>
<rect x="17" y="423" width="3" height="1" fill="#000"/>
<rect x="5" y="437" width="15" height="1" fill="#000"/>
<text x="0" y="0" font-size="9.6" fill="#000" text-anchor="end" transform="translate(11.8 441.6) rotate(-90)">30</text>
<rect x="17" y="451" width="3" height="1" fill="#000"/>
<rect x="17" y="465" width="3" height="1" fill="#000"/>
<rect x="17" y="479" width="3" height="1" fill="#000"/>
<rect x="17" y="493" width="3" height="1" fill="#000"/>
<rect x="13" y="507" width="7" height="1" fill="#000"/>
<rect x="17" y="521" width="3" height="1" fill="#000"/>
<text x="3.5" y="9.8" font-size="9.6" fill="#000">мм</text>
<rect x="629" y="0" width="1" height="15" fill="#e00000"/>
<rect x="0" y="271" width="20" height="1" fill="#e00000"/>
</g>
</svg>
</body></html>
